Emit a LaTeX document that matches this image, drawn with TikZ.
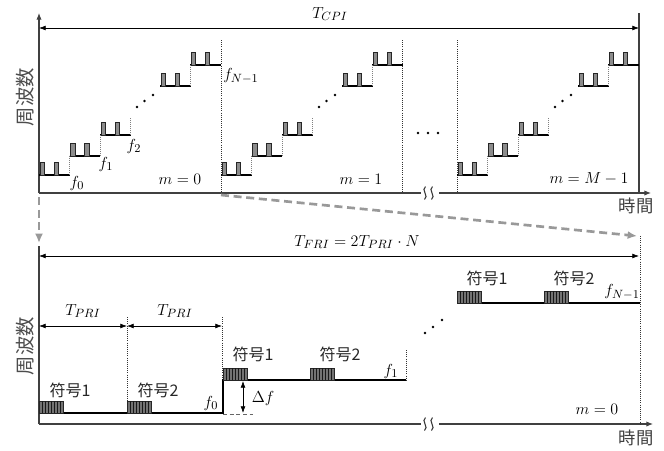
\documentclass[tikz,border=0pt]{standalone}
\usepackage{fontspec}
\newfontfamily\jp{Noto Sans CJK JP}
\usetikzlibrary{arrows.meta}
\begin{document}
\begin{tikzpicture}[x=0.75pt,y=-0.75pt,
  axis/.style={draw=black!75, line width=0.8pt},
  tip/.style={-{Latex[length=5pt,width=4pt]}},
  dimarr/.style={{Latex[length=5pt,width=3.6pt]}-{Latex[length=5pt,width=3.6pt]}, line width=0.5pt},
  level/.style={line width=1.8pt},
  pulse/.style={draw=black!85, fill=black!45, line width=0.6pt},
  riser/.style={draw=black!50, densely dotted, line width=0.5pt},
  sep/.style={draw=black!80, densely dotted, line width=0.6pt},
  grayarr/.style={draw=black!40, line width=2pt, dash pattern=on 6pt off 3.5pt, -{Latex[length=7pt,width=6pt]}},
  lbl/.style={font=\fontsize{12.5}{13}\selectfont, inner sep=0pt},
  jlbl/.style={font=\jp\fontsize{12}{13}\selectfont, inner sep=0pt, text=black!85},
  axlbl/.style={font=\jp\fontsize{13}{14}\selectfont, inner sep=0pt, text=black!75},
  freqlbl/.style={font=\jp\fontsize{14.5}{15}\selectfont, inner sep=0pt, text=black!70, rotate=90},
  squig/.style={draw=black!80, line width=0.8pt},
  blk/.style={draw=black!85, fill=black!55, line width=0.4pt}
]
\useasboundingbox (0,0) rectangle (664,450);

% ================= TOP PANEL =================
\coordinate (tO) at (39,193);
\coordinate (tY) at (39,13);
\coordinate (tX) at (651,193);
\coordinate (tR1) at (639,13);
\coordinate (tR0) at (639,193);
\coordinate (tcL) at (39,28);
\coordinate (tcR) at (639,28);
\coordinate (brk1) at (421,193);
\coordinate (brk2) at (439,193);

\draw[axis, tip] (tO) -- (tY);
\draw[axis] (tO) -- (brk1);
\draw[axis, tip] (brk2) -- (tX);
\draw[axis] (tR0) -- (tR1);
\foreach \s in {425,432}{
  \draw[squig] (\s+0.5,186.5) .. controls (\s-4.5,190) and (\s+4.5,196) .. (\s-0.5,199.5);
}
\draw[dimarr] (tcL) -- (tcR);
\node[lbl] (tcpi) at (330,14) {$T_{CPI}$};

% separators
\foreach \x in {221,402,457}{
  \draw[sep] (\x,40) -- (\x,193);
}

% staircases
\foreach \X in {39,221,457}{
  \foreach \o/\y in {0/175, 30.5/156, 61/135, 121/86, 151/65}{
    \draw[level] ({\X+\o},\y) -- ({\X+\o+30.5},\y);
    \draw[pulse] ({\X+\o+1},\y) rectangle ({\X+\o+5.5},\y-13);
    \draw[pulse] ({\X+\o+15},\y) rectangle ({\X+\o+19.5},\y-13);
  }
  \foreach \o/\a/\b in {30.5/175/156, 61/156/135, 91.5/135/117, 151/86/65}{
    \draw[riser] ({\X+\o},\a) -- ({\X+\o},\b);
  }
  \foreach \dx/\dy in {98/107, 105.5/101, 114/95}{
    \fill ({\X+\dx},\dy) circle (1.4);
  }
}
\foreach \x in {418,428,438}{ \fill (\x,133) circle (1.4); }

\node[lbl] (f0t) at (77,183) {$f_0$};
\node[lbl] (f1t) at (106,164) {$f_1$};
\node[lbl] (f2t) at (134,146) {$f_2$};
\node[lbl, anchor=west] (fNt) at (223,76) {$f_{N-1}$};
\node[lbl] (m0t) at (180,179) {$m=0$};
\node[lbl] (m1t) at (361,179) {$m=1$};
\node[lbl] (mMt) at (589,179) {$m=M-1$};
\node[axlbl] (timet) at (636,206) {時間};
\node[freqlbl] (freqt) at (25,97) {周波数};

% gray dashed arrows
\coordinate (gA) at (221,195);
\coordinate (gB) at (637,236);
\coordinate (gC) at (39,197);
\coordinate (gD) at (39,243);
\draw[grayarr] (gA) -- (gB);
\draw[grayarr] (gC) -- (gD);

% ================= BOTTOM PANEL =================
\coordinate (bO) at (39,424);
\coordinate (bY) at (39,246);
\coordinate (bX) at (653,424);
\coordinate (brk3) at (421,424);
\coordinate (brk4) at (439,424);
\draw[axis] (bO) -- (bY);
\draw[axis] (bO) -- (brk3);
\draw[axis, tip] (brk4) -- (bX);
\foreach \s in {425,432}{
  \draw[squig] (\s+0.5,417.5) .. controls (\s-4.5,421) and (\s+4.5,427) .. (\s-0.5,430.5);
}
\draw[sep] (640,236) -- (640,424);

\draw[dimarr] (39,256) -- (639,256);
\node[lbl] (tfri) at (357,242) {$T_{FRI}=2T_{PRI}\cdot N$};

\draw[sep] (127,317) -- (127,413);
\draw[sep] (222,317) -- (222,380);
\draw[sep] (406,350) -- (406,380);
\draw[dimarr] (39,326) -- (127,326);
\draw[dimarr] (127,326) -- (222,326);
\node[lbl] (tp1) at (83,311) {$T_{PRI}$};
\node[lbl] (tp2) at (175,311) {$T_{PRI}$};

% levels
\draw[level] (39,413) -- (223,413) -- (223,380) -- (406,380);
\draw[level] (457,303) -- (640,303);
\draw[draw=black!60, densely dashed, line width=0.6pt] (223,414) -- (253,414);
\draw[dimarr] (243,381) -- (243,413);
\node[lbl] (df) at (263,398) {$\Delta f$};

% symbol blocks
\foreach \bx/\by in {39/413, 127/413, 223/380, 310/380, 457/303, 544/303}{
  \draw[blk] (\bx,\by) rectangle ({\bx+24},\by-12);
  \foreach \k in {3,6,...,21}{
    \draw[black!90, line width=0.5pt] ({\bx+\k},\by) -- ({\bx+\k},\by-12);
  }
}
\node[jlbl] (s1a) at (70,390) {符号1};
\node[jlbl] (s2a) at (158,390) {符号2};
\node[jlbl] (s1b) at (253,354) {符号1};
\node[jlbl] (s2b) at (340,354) {符号2};
\node[jlbl] (s1c) at (487,278) {符号1};
\node[jlbl] (s2c) at (574,278) {符号2};

\node[lbl] (f0b) at (211,403) {$f_0$};
\node[lbl] (f1b) at (391,371) {$f_1$};
\node[lbl] (fNb) at (622,292) {$f_{N-1}$};
\node[lbl] (m0b) at (597,409) {$m=0$};

\foreach \dx/\dy in {425/333, 433/327, 442/320}{ \fill (\dx,\dy) circle (1.4); }

\node[axlbl] (timeb) at (636,438) {時間};
\node[freqlbl] (freqb) at (25,346) {周波数};
\end{tikzpicture}
\end{document}
